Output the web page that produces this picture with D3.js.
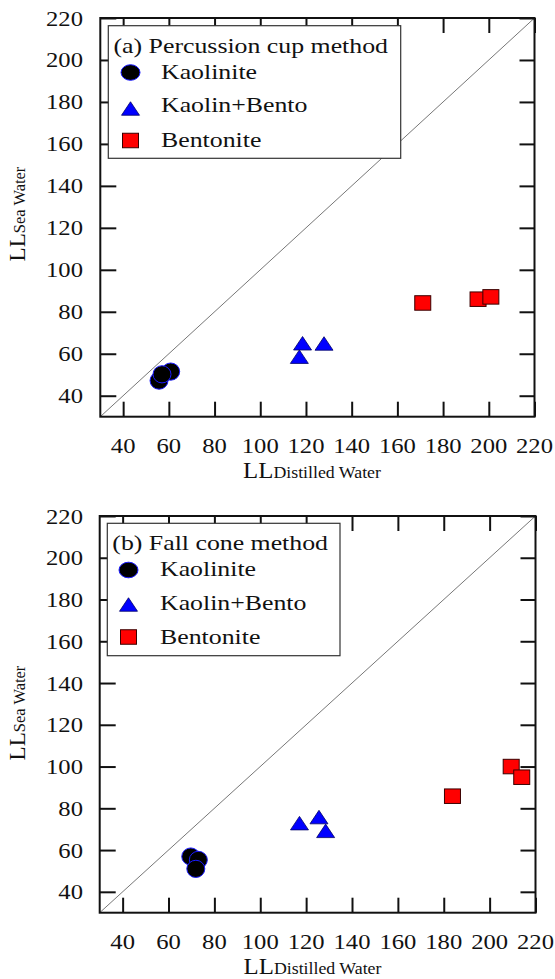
<!DOCTYPE html>
<html><head><meta charset="utf-8">
<script src="https://cdn.jsdelivr.net/npm/d3@7"></script>
<style>html,body{margin:0;padding:0;background:#fff;}svg{display:block;}</style>
</head><body>
<svg id="chart" width="555" height="979"></svg>
<script>
// ---------- data ----------
const xTickValues = [40, 60, 80, 100, 120, 140, 160, 180, 200, 220];
const yTickValues = [40, 60, 80, 100, 120, 140, 160, 180, 200, 220];
const seriesNames = ["Kaolinite", "Kaolin+Bento", "Bentonite"];
const panelTitles = ["(a) Percussion cup method", "(b) Fall cone method"];

// (a) Percussion cup method: [LL distilled water, LL sea water]
const kaoliniteA   = [[60.8, 51.5], [55.7, 47.2], [57.0, 50.2]];
const kaolinBentoA = [[117.1, 58.6], [118.5, 65.0], [127.9, 64.9]];
const bentoniteA   = [[171.1, 84.2], [195.3, 86.0], [200.9, 87.1]];
// (b) Fall cone method
const kaoliniteB   = [[69.7, 56.9], [73.0, 55.3], [71.9, 51.0]];
const kaolinBentoB = [[117.1, 72.9], [125.6, 75.8], [128.5, 69.2]];
const bentoniteB   = [[183.8, 85.8], [209.4, 100.0], [214.0, 94.9]];

const domain = [30, 220];

// ---------- drawing ----------
const svg = d3.select("#chart");
const FONT = "'Liberation Serif','Times New Roman',serif";
const SX = 1.2;   // horizontal stretch of the original figure

function stretchedText(parent, x, y, str, size, anchor, sx) {
  const g = parent.append("g").attr("transform", `translate(${x},${y})`);
  return g.append("text")
    .attr("transform", `scale(${sx},1)`)
    .attr("text-anchor", anchor)
    .attr("font-family", FONT)
    .attr("font-size", size)
    .attr("fill", "#111")
    .text(str);
}

function marker(parent, kind, x, y, legend) {
  const g = parent.append("g").attr("transform", `translate(${x},${y})`);
  if (kind === 0) {
    g.append("ellipse").attr("rx", legend ? 9.5 : 9).attr("ry", legend ? 7.8 : 8.6)
      .attr("fill", "#000").attr("stroke", "#1a1aff").attr("stroke-width", 1);
  } else if (kind === 1) {
    const w = 18, h = 13.5;
    g.append("path").attr("d", `M0,${-h/2}L${w/2},${h/2}L${-w/2},${h/2}Z`)
      .attr("fill", "#0000ff").attr("stroke", "#000066").attr("stroke-width", 0.8);
  } else {
    const w = 16, h = 14.5;
    g.append("rect").attr("x", -w/2).attr("y", -h/2).attr("width", w).attr("height", h)
      .attr("fill", "#ff0000").attr("stroke", "#3a0000").attr("stroke-width", 1);
  }
}

function drawPanel(cfg, title, groups) {
  const x = d3.scaleLinear().domain(domain).range([cfg.left, cfg.right]);
  const y = d3.scaleLinear().domain(domain).range([cfg.bottom, cfg.top]);
  const g = svg.append("g");

  // 1:1 line
  g.append("line")
    .attr("x1", x(domain[0])).attr("y1", y(domain[0]))
    .attr("x2", x(domain[1])).attr("y2", y(domain[1]))
    .attr("stroke", "#777").attr("stroke-width", 1);

  // axes (ticks inward, no labels from axis generator)
  const axB = d3.axisBottom(x).tickValues(xTickValues).tickSize(-15).tickFormat("");
  const axT = d3.axisTop(x).tickValues(xTickValues).tickSize(-15).tickFormat("");
  const axL = d3.axisLeft(y).tickValues(yTickValues).tickSize(-16).tickFormat("");
  const axR = d3.axisRight(y).tickValues(yTickValues).tickSize(-15).tickFormat("");
  [[axB, `translate(0,${cfg.bottom})`], [axT, `translate(0,${cfg.top})`],
   [axL, `translate(${cfg.left},0)`], [axR, `translate(${cfg.right},0)`]].forEach(([ax, tr]) => {
    const a = g.append("g").attr("transform", tr).call(ax);
    a.select(".domain").remove();
    a.selectAll(".tick line").attr("stroke", "#111").attr("stroke-width", 2);
  });

  // frame
  g.append("rect").attr("x", x(domain[0])).attr("y", y(domain[1]))
    .attr("width", x(domain[1]) - x(domain[0])).attr("height", y(domain[0]) - y(domain[1]))
    .attr("fill", "none").attr("stroke", "#111").attr("stroke-width", 2);

  // tick labels
  xTickValues.forEach(v => stretchedText(g, x(v), cfg.bottom + 36, String(v), 22, "middle", 1.12));
  yTickValues.forEach(v => stretchedText(g, 83, y(v) + 7.5, String(v), 22, "end", 1.12));

  // x-axis label
  const xl = g.append("g").attr("transform", `translate(${cfg.xLabelX},${cfg.bottom + 61.5}) scale(1.08,1)`);
  const xt = xl.append("text").attr("text-anchor", "middle").attr("font-family", FONT).attr("fill", "#111");
  xt.append("tspan").attr("font-size", 23).text("LL");
  xt.append("tspan").attr("font-size", 16.5).text("Distilled Water");

  // y-axis label
  const yl = g.append("g").attr("transform", `translate(25,${cfg.yLabelY}) rotate(-90)`);
  const yt = yl.append("text").attr("text-anchor", "middle").attr("font-family", FONT).attr("fill", "#111");
  yt.append("tspan").attr("font-size", 23).text("LL");
  yt.append("tspan").attr("font-size", 16.5).text("Sea Water");

  // data marks
  groups.forEach((pts, k) => {
    pts.forEach(p => marker(g, k, x(p[0]), y(p[1]), false));
  });

  // legend
  const L = cfg.legend;
  g.append("rect").attr("x", L.x0).attr("y", L.y0).attr("width", L.x1 - L.x0).attr("height", L.y1 - L.y0)
    .attr("fill", "#fff").attr("stroke", "#333").attr("stroke-width", 1.2);
  stretchedText(g, L.titleX, L.titleY, title, 21, "start", 1.23);
  seriesNames.forEach((name, k) => {
    marker(g, k, L.mx, L.my[k], true);
    stretchedText(g, L.tx, L.ty[k], name, 21, "start", 1.23);
  });
}

drawPanel({
  left: 100.3, right: 534.5, top: 18, bottom: 416.7,
  xLabelX: 312, yLabelY: 214,
  legend: { x0: 108.3, y0: 25.7, x1: 400.7, y1: 158.3, titleX: 113.5, titleY: 52.5,
            mx: 130.5, my: [72.5, 108.5, 140.5], tx: 161, ty: [78.5, 112, 147] }
}, panelTitles[0], [kaoliniteA, kaolinBentoA, bentoniteA]);

drawPanel({
  left: 99.7, right: 535.5, top: 516, bottom: 912.7,
  xLabelX: 312.5, yLabelY: 713,
  legend: { x0: 107.3, y0: 523.3, x1: 340, y1: 655.7, titleX: 112.3, titleY: 550,
            mx: 128.5, my: [570, 604.5, 637], tx: 160, ty: [576, 610, 644] }
}, panelTitles[1], [kaoliniteB, kaolinBentoB, bentoniteB]);
</script>
</body></html>
